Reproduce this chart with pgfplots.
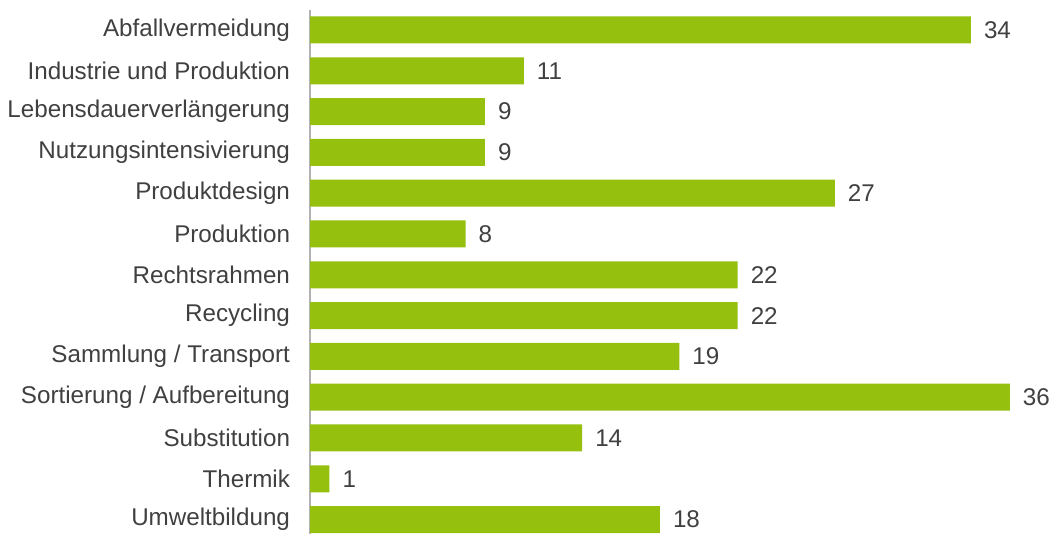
\documentclass[border=0pt]{standalone}
\usepackage{fontspec}
\setmainfont{Liberation Sans}
\usepackage{pgfplots}
\pgfplotsset{compat=1.18}
\definecolor{bargreen}{RGB}{149,192,14}
\definecolor{txt}{RGB}{64,64,64}
\begin{document}
\begin{tikzpicture}
\begin{axis}[
  x=9.72pt, y=20.4pt,
  xbar, bar width=13.5pt,
  xmin=0, xmax=38, ymin=-0.5, ymax=12.35,
  y dir=reverse,
  axis y line*=left, axis x line=none,
  axis line style={-, draw=black!30, line width=0.8pt},
  ytick={0,...,12},
  yticklabels={Abfallvermeidung,Industrie und Produktion,Lebensdauerverlängerung,Nutzungsintensivierung,Produktdesign,Produktion,Rechtsrahmen,Recycling,Sammlung / Transport,Sortierung / Aufbereitung,Substitution,Thermik,Umweltbildung},
  major tick length=0pt,
  yticklabel style={font=\fontsize{12.1}{14}\selectfont, text=txt, xshift=-6.5pt},
  /pgf/number format/assume math mode=true,
  nodes near coords,
  nodes near coords style={font=\fontsize{12.1}{14}\selectfont, text=txt, xshift=3pt},
  clip=false,
]
\addplot[fill=bargreen, draw=none] coordinates {
(34,0) (11,1) (9,2) (9,3) (27,4) (8,5) (22,6) (22,7) (19,8) (36,9) (14,10) (1,11) (18,12)
};
\coordinate (bbA) at (axis cs:-15.95,-0.735);
\coordinate (bbB) at (axis cs:38.22,12.33);
\end{axis}
\pgfresetboundingbox
\path[use as bounding box] (bbA) rectangle (bbB);
\end{tikzpicture}
\end{document}
